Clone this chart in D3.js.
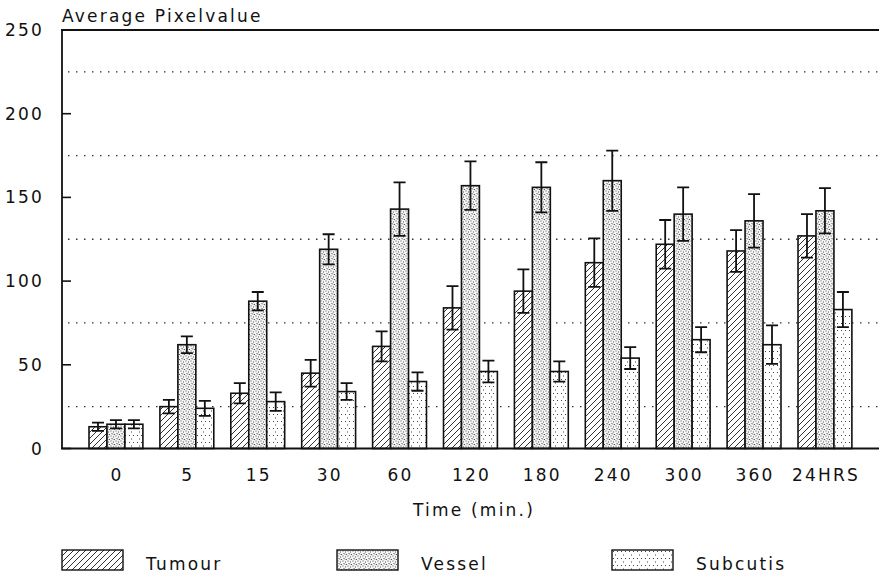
<!DOCTYPE html>
<meta charset="utf-8">
<style>
body { margin: 0; background: #fff; }
text { font-family: "DejaVu Sans", sans-serif; font-size: 17px; letter-spacing: 2.2px; fill: #111; }
.grid { stroke: #333; stroke-width: 1.3; stroke-dasharray: 1.5,6.5; }
.bar { stroke: #111; stroke-width: 1.6; }
.err { stroke: #111; stroke-width: 1.8; fill: none; }
</style>
<svg width="879" height="578"></svg>
<script src="https://d3js.org/d3.v7.min.js"></script>
<script>
var categories = ["0", "5", "15", "30", "60", "120", "180", "240", "300", "360", "24HRS"];
var seriesNames = ["Tumour", "Vessel", "Subcutis"];
var tumour = [13, 25, 33, 45, 61, 84, 94, 111, 122, 118, 127];
var tumourErr = [2.5, 4, 6, 8, 9, 13, 13, 14.5, 14.5, 12.5, 13];
var vessel = [14.5, 62, 88, 119, 143, 157, 156, 160, 140, 136, 142];
var vesselErr = [2.5, 5, 5.5, 9, 16, 14.5, 15, 18, 16, 16, 13.5];
var subcutis = [14.5, 24, 28, 34, 40, 46, 46, 54, 65, 62, 83];
var subcutisErr = [2.5, 4.5, 5.5, 5, 5.5, 6.5, 6, 6.5, 7.5, 11.5, 10.5];
var yTicks = [0, 50, 100, 150, 200, 250];
var gridValues = [25, 75, 125, 175, 225];

var svg = d3.select("svg");
var values = [tumour, vessel, subcutis];
var errs = [tumourErr, vesselErr, subcutisErr];

var x0 = d3.scaleBand().domain(categories).range([80.5, 860.4])
    .paddingInner(0.24).paddingOuter(0.12);
var x1 = d3.scaleBand().domain(seriesNames).range([0, x0.bandwidth()]);
var y = d3.scaleLinear().domain([0, 250]).range([448.5, 30]);

// fill patterns
var defs = svg.append("defs");
var hatch = defs.append("pattern").attr("id", "p-Tumour")
    .attr("patternUnits", "userSpaceOnUse").attr("width", 6).attr("height", 6);
hatch.append("rect").attr("width", 6).attr("height", 6).attr("fill", "#fff");
hatch.append("path").attr("d", "M-1,7 L7,-1 M-4,4 L4,-4 M2,10 L10,2")
    .attr("stroke", "#333").attr("stroke-width", 1);

var dense = defs.append("pattern").attr("id", "p-Vessel")
    .attr("patternUnits", "userSpaceOnUse").attr("width", 5).attr("height", 5);
dense.append("rect").attr("width", 5).attr("height", 5).attr("fill", "#f4f4f4");
[[0.5, 0.5], [3, 1.5], [1.5, 3], [4, 4], [2.5, 4.5]].forEach(function(p) {
  dense.append("rect").attr("x", p[0]).attr("y", p[1]).attr("width", 1).attr("height", 1).attr("fill", "#555");
});

var sparse = defs.append("pattern").attr("id", "p-Subcutis")
    .attr("patternUnits", "userSpaceOnUse").attr("width", 8).attr("height", 7);
sparse.append("rect").attr("width", 8).attr("height", 7).attr("fill", "#fff");
[[1, 1], [5, 1], [3, 4.5]].forEach(function(p) {
  sparse.append("rect").attr("x", p[0]).attr("y", p[1]).attr("width", 1).attr("height", 1).attr("fill", "#444");
});

// dotted grid
svg.selectAll(".grid").data(gridValues).enter().append("line")
    .attr("class", "grid")
    .attr("x1", 68).attr("x2", 879)
    .attr("y1", function(d) { return y(d); })
    .attr("y2", function(d) { return y(d); });

// bars
var rows = [];
categories.forEach(function(c, i) {
  seriesNames.forEach(function(s, j) {
    rows.push({cat: c, s: s, v: values[j][i], e: errs[j][i]});
  });
});

svg.selectAll(".bar").data(rows).enter().append("rect")
    .attr("class", "bar")
    .attr("x", function(d) { return x0(d.cat) + x1(d.s); })
    .attr("y", function(d) { return y(d.v); })
    .attr("width", x1.bandwidth())
    .attr("height", function(d) { return y(0) - y(d.v); })
    .attr("fill", function(d) { return "url(#p-" + d.s + ")"; });

var cap = 6;
svg.selectAll(".err").data(rows).enter().append("path")
    .attr("class", "err")
    .attr("d", function(d) {
      var cx = x0(d.cat) + x1(d.s) + x1.bandwidth() / 2;
      var t = y(d.v + d.e), b = y(d.v - d.e);
      return "M" + (cx - cap) + "," + t + "H" + (cx + cap) +
             "M" + cx + "," + t + "V" + b +
             "M" + (cx - cap) + "," + b + "H" + (cx + cap);
    });

// axes frame
svg.append("line").attr("x1", 62).attr("x2", 62).attr("y1", y(250)).attr("y2", y(0))
    .attr("stroke", "#111").attr("stroke-width", 1.8);
svg.append("line").attr("x1", 61).attr("x2", 879).attr("y1", y(250)).attr("y2", y(250))
    .attr("stroke", "#111").attr("stroke-width", 2);
svg.append("line").attr("x1", 61).attr("x2", 879).attr("y1", y(0)).attr("y2", y(0))
    .attr("stroke", "#111").attr("stroke-width", 2);

svg.selectAll(".ytick").data(yTicks.slice(0, 5)).enter().append("line")
    .attr("x1", 62).attr("x2", 71)
    .attr("y1", function(d) { return y(d); }).attr("y2", function(d) { return y(d); })
    .attr("stroke", "#111").attr("stroke-width", 1.6);

svg.selectAll(".ylab").data(yTicks).enter().append("text")
    .attr("x", 44).attr("y", function(d) { return y(d) + 6; })
    .attr("text-anchor", "end")
    .text(function(d) { return d; });

svg.selectAll(".xlab").data(categories).enter().append("text")
    .attr("x", function(d) { return x0(d) + x0.bandwidth() / 2 + 1; })
    .attr("y", 481)
    .attr("text-anchor", "middle")
    .text(function(d) { return d; });

svg.append("text").attr("x", 474).attr("y", 516).attr("text-anchor", "middle").text("Time (min.)");
svg.append("text").attr("x", 62).attr("y", 22).text("Average Pixelvalue");

// legend
var legX = [62, 337, 612];
var leg = svg.selectAll(".leg").data(seriesNames).enter().append("g")
    .attr("transform", function(d, i) { return "translate(" + legX[i] + ",550)"; });
leg.append("rect").attr("width", 61).attr("height", 20)
    .attr("fill", function(d) { return "url(#p-" + d + ")"; })
    .attr("stroke", "#111").attr("stroke-width", 1.4);
leg.append("text").attr("x", 84).attr("y", 20).text(function(d) { return d; });
</script>
